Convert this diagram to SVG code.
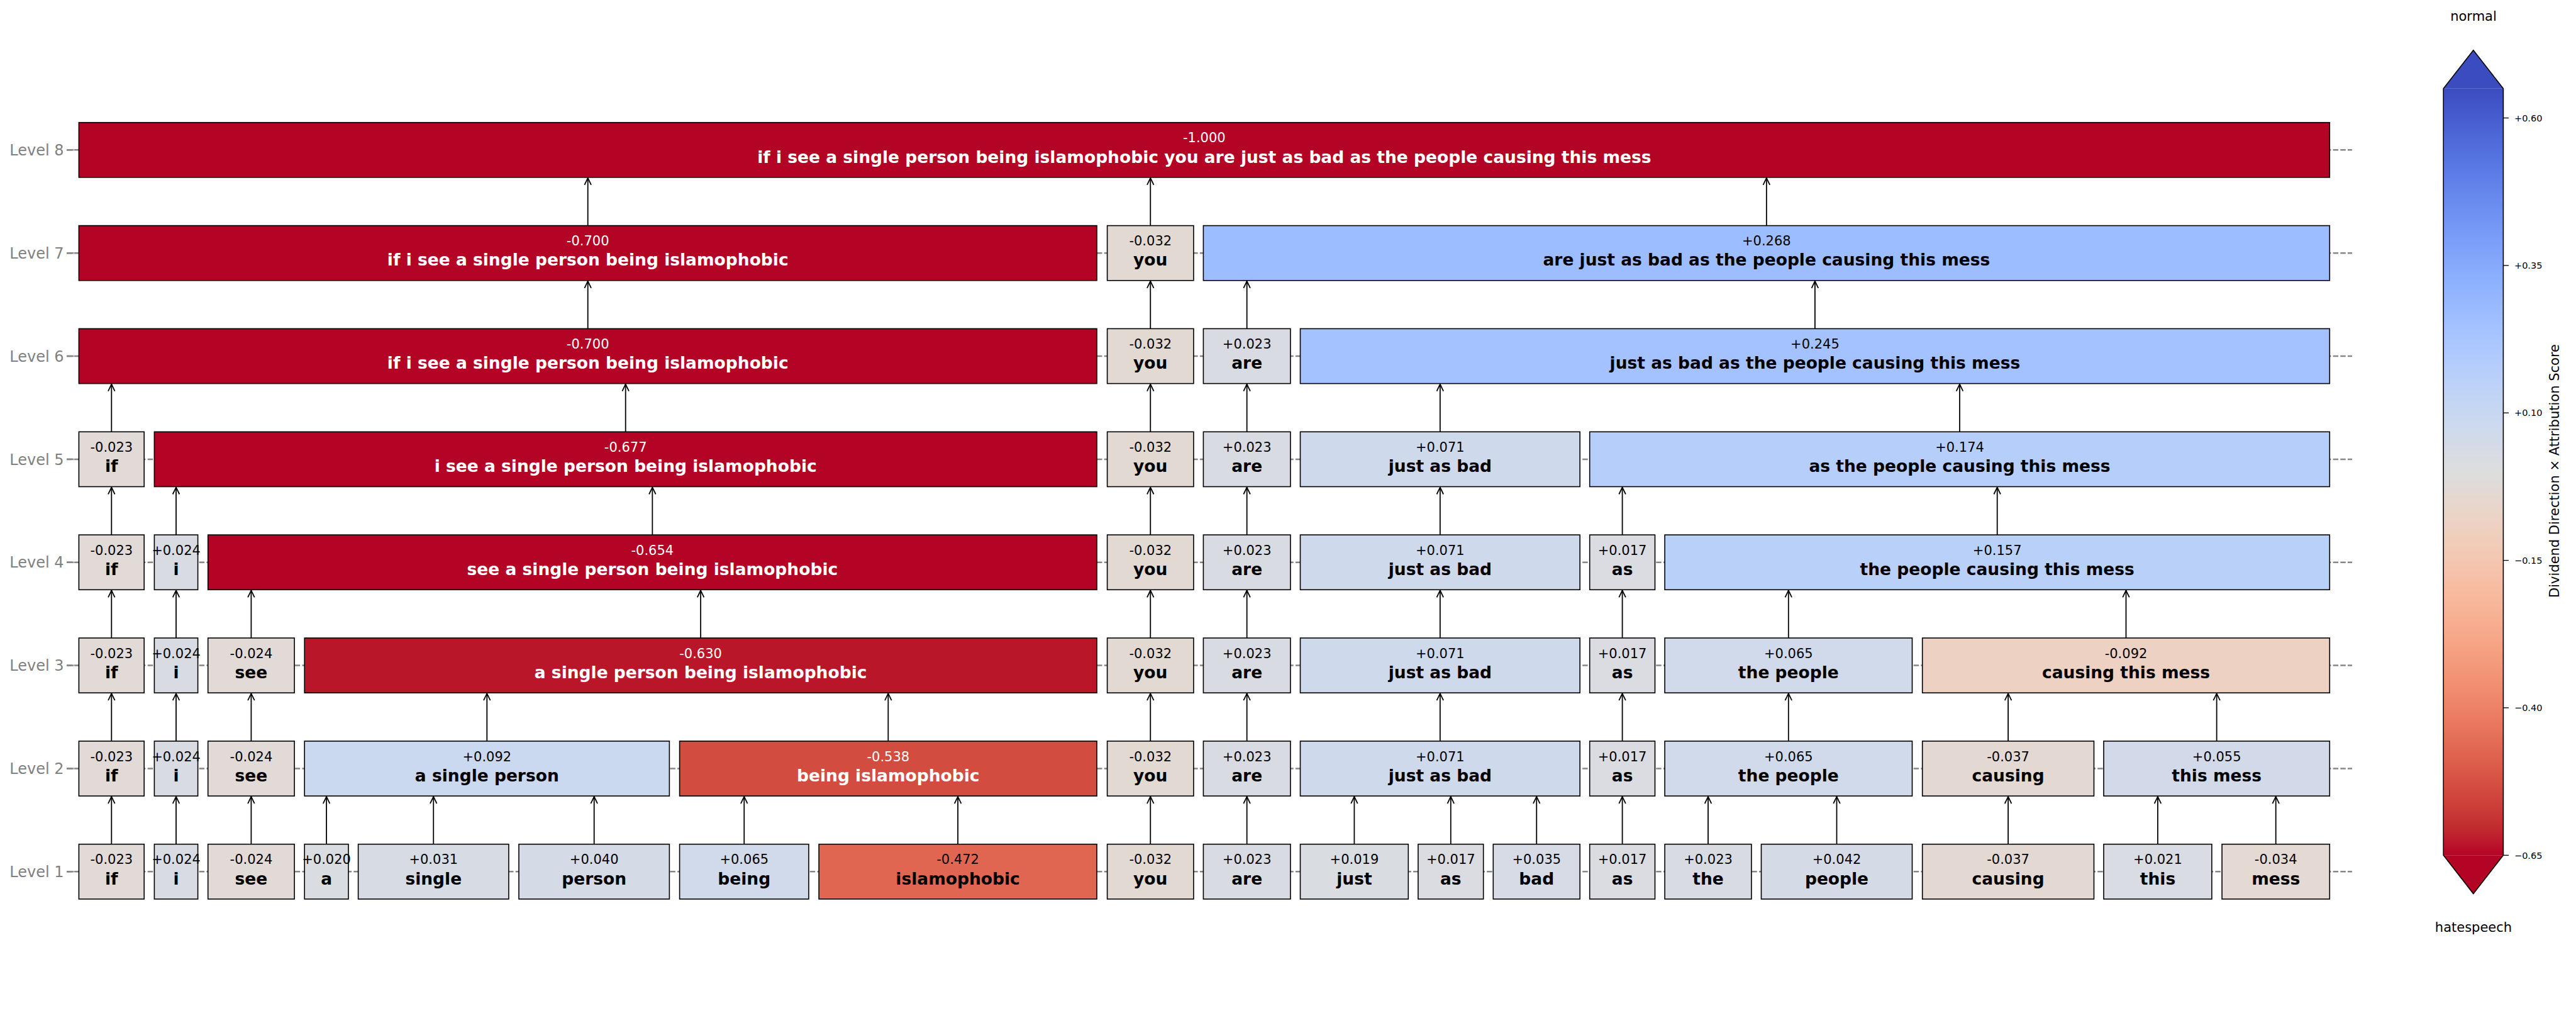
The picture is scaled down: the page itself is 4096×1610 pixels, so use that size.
<svg xmlns="http://www.w3.org/2000/svg" width="4096" height="1610" viewBox="0 0 4096 1610">
<style>
text{font-family:"DejaVu Sans","Liberation Sans",sans-serif}
.nd rect{stroke:#000;stroke-width:1.6}
.v{font-size:21px;text-anchor:middle;fill:#000}
.t{font-size:26.5px;font-weight:bold;text-anchor:middle;fill:#000}
.w{fill:#fff}
.dl{stroke:#878787;stroke-width:2.5;stroke-dasharray:8.5 3.2}
.tk{stroke:#878787;stroke-width:2.5}
.lv{font-size:24px;fill:#808080;text-anchor:end}
.a{stroke:#000;stroke-width:1.8;fill:none;marker-end:url(#ah)}
.ct{font-size:14.5px;fill:#000}
.cl{font-size:21px;fill:#000;text-anchor:middle}
</style>
<defs>
<marker id="ah" markerUnits="userSpaceOnUse" markerWidth="24" markerHeight="24" viewBox="-16 -12 24 24" refX="0" refY="0" orient="auto" overflow="visible">
<path d="M-11,-5.3 L0,0 L-11,5.3" fill="none" stroke="#000" stroke-width="1.8"/>
</marker>
<linearGradient id="cw" gradientUnits="userSpaceOnUse" x1="0" y1="140.7" x2="0" y2="1359.3">
<stop offset="0" stop-color="#3b4cc0"/><stop offset="0.03125" stop-color="#445acc"/><stop offset="0.0625" stop-color="#4d68d7"/><stop offset="0.09375" stop-color="#5775e1"/><stop offset="0.125" stop-color="#6282ea"/><stop offset="0.15625" stop-color="#6c8ef1"/><stop offset="0.1875" stop-color="#779af7"/><stop offset="0.21875" stop-color="#82a5fb"/><stop offset="0.25" stop-color="#8db0fe"/><stop offset="0.28125" stop-color="#98b9ff"/><stop offset="0.3125" stop-color="#a3c2ff"/><stop offset="0.34375" stop-color="#aec9fd"/><stop offset="0.375" stop-color="#b8d0f9"/><stop offset="0.40625" stop-color="#c2d5f4"/><stop offset="0.4375" stop-color="#ccd9ee"/><stop offset="0.46875" stop-color="#d5dbe6"/><stop offset="0.5" stop-color="#dddddd"/><stop offset="0.53125" stop-color="#e5d8d1"/><stop offset="0.5625" stop-color="#ecd3c5"/><stop offset="0.59375" stop-color="#f1ccb8"/><stop offset="0.625" stop-color="#f5c4ac"/><stop offset="0.65625" stop-color="#f7bba0"/><stop offset="0.6875" stop-color="#f7b194"/><stop offset="0.71875" stop-color="#f7a687"/><stop offset="0.75" stop-color="#f49a7b"/><stop offset="0.78125" stop-color="#f18d6f"/><stop offset="0.8125" stop-color="#ec7f63"/><stop offset="0.84375" stop-color="#e57058"/><stop offset="0.875" stop-color="#de604d"/><stop offset="0.90625" stop-color="#d55042"/><stop offset="0.9375" stop-color="#cb3e38"/><stop offset="0.96875" stop-color="#c0282f"/><stop offset="1" stop-color="#b40426"/>
</linearGradient>
</defs>
<rect width="4096" height="1610" fill="#fff"/>
<g id="levels">
<line class="dl" x1="106" y1="238.3" x2="3740" y2="238.3"/><line class="tk" x1="106" y1="238.3" x2="117" y2="238.3"/><text class="lv" x="101.5" y="247">Level 8</text>
<line class="dl" x1="106" y1="402.2" x2="3740" y2="402.2"/><line class="tk" x1="106" y1="402.2" x2="117" y2="402.2"/><text class="lv" x="101.5" y="410.9">Level 7</text>
<line class="dl" x1="106" y1="566" x2="3740" y2="566"/><line class="tk" x1="106" y1="566" x2="117" y2="566"/><text class="lv" x="101.5" y="574.7">Level 6</text>
<line class="dl" x1="106" y1="729.9" x2="3740" y2="729.9"/><line class="tk" x1="106" y1="729.9" x2="117" y2="729.9"/><text class="lv" x="101.5" y="738.6">Level 5</text>
<line class="dl" x1="106" y1="893.7" x2="3740" y2="893.7"/><line class="tk" x1="106" y1="893.7" x2="117" y2="893.7"/><text class="lv" x="101.5" y="902.4">Level 4</text>
<line class="dl" x1="106" y1="1057.6" x2="3740" y2="1057.6"/><line class="tk" x1="106" y1="1057.6" x2="117" y2="1057.6"/><text class="lv" x="101.5" y="1066.3">Level 3</text>
<line class="dl" x1="106" y1="1221.5" x2="3740" y2="1221.5"/><line class="tk" x1="106" y1="1221.5" x2="117" y2="1221.5"/><text class="lv" x="101.5" y="1230.2">Level 2</text>
<line class="dl" x1="106" y1="1385.3" x2="3740" y2="1385.3"/><line class="tk" x1="106" y1="1385.3" x2="117" y2="1385.3"/><text class="lv" x="101.5" y="1394">Level 1</text>
</g>
<g id="connectors">
<line class="a" x1="177.3" y1="1341.7" x2="177.3" y2="1266.1"/><line class="a" x1="280" y1="1341.7" x2="280" y2="1266.1"/><line class="a" x1="399.4" y1="1341.7" x2="399.4" y2="1266.1"/><line class="a" x1="519.1" y1="1341.7" x2="519.1" y2="1266.1"/><line class="a" x1="689.25" y1="1341.7" x2="689.25" y2="1266.1"/><line class="a" x1="944.7" y1="1341.7" x2="944.7" y2="1266.1"/><line class="a" x1="1183.25" y1="1341.7" x2="1183.25" y2="1266.1"/><line class="a" x1="1523.05" y1="1341.7" x2="1523.05" y2="1266.1"/><line class="a" x1="1829.25" y1="1341.7" x2="1829.25" y2="1266.1"/><line class="a" x1="1982.65" y1="1341.7" x2="1982.65" y2="1266.1"/><line class="a" x1="2153.4" y1="1341.7" x2="2153.4" y2="1266.1"/><line class="a" x1="2306.8" y1="1341.7" x2="2306.8" y2="1266.1"/><line class="a" x1="2443.25" y1="1341.7" x2="2443.25" y2="1266.1"/><line class="a" x1="2579.6" y1="1341.7" x2="2579.6" y2="1266.1"/><line class="a" x1="2716" y1="1341.7" x2="2716" y2="1266.1"/><line class="a" x1="2920.5" y1="1341.7" x2="2920.5" y2="1266.1"/><line class="a" x1="3193.1" y1="1341.7" x2="3193.1" y2="1266.1"/><line class="a" x1="3430.95" y1="1341.7" x2="3430.95" y2="1266.1"/><line class="a" x1="3618.7" y1="1341.7" x2="3618.7" y2="1266.1"/>
<line class="a" x1="177.3" y1="1177.9" x2="177.3" y2="1102.2"/><line class="a" x1="280" y1="1177.9" x2="280" y2="1102.2"/><line class="a" x1="399.4" y1="1177.9" x2="399.4" y2="1102.2"/><line class="a" x1="774.3" y1="1177.9" x2="774.3" y2="1102.2"/><line class="a" x1="1412.3" y1="1177.9" x2="1412.3" y2="1102.2"/><line class="a" x1="1829.25" y1="1177.9" x2="1829.25" y2="1102.2"/><line class="a" x1="1982.65" y1="1177.9" x2="1982.65" y2="1102.2"/><line class="a" x1="2289.85" y1="1177.9" x2="2289.85" y2="1102.2"/><line class="a" x1="2579.6" y1="1177.9" x2="2579.6" y2="1102.2"/><line class="a" x1="2843.8" y1="1177.9" x2="2843.8" y2="1102.2"/><line class="a" x1="3193.1" y1="1177.9" x2="3193.1" y2="1102.2"/><line class="a" x1="3524.65" y1="1177.9" x2="3524.65" y2="1102.2"/>
<line class="a" x1="177.3" y1="1014" x2="177.3" y2="938.3"/><line class="a" x1="280" y1="1014" x2="280" y2="938.3"/><line class="a" x1="399.4" y1="1014" x2="399.4" y2="938.3"/><line class="a" x1="1114.1" y1="1014" x2="1114.1" y2="938.3"/><line class="a" x1="1829.25" y1="1014" x2="1829.25" y2="938.3"/><line class="a" x1="1982.65" y1="1014" x2="1982.65" y2="938.3"/><line class="a" x1="2289.85" y1="1014" x2="2289.85" y2="938.3"/><line class="a" x1="2579.6" y1="1014" x2="2579.6" y2="938.3"/><line class="a" x1="2843.8" y1="1014" x2="2843.8" y2="938.3"/><line class="a" x1="3380.5" y1="1014" x2="3380.5" y2="938.3"/>
<line class="a" x1="177.3" y1="850.1" x2="177.3" y2="774.5"/><line class="a" x1="280" y1="850.1" x2="280" y2="774.5"/><line class="a" x1="1037.35" y1="850.1" x2="1037.35" y2="774.5"/><line class="a" x1="1829.25" y1="850.1" x2="1829.25" y2="774.5"/><line class="a" x1="1982.65" y1="850.1" x2="1982.65" y2="774.5"/><line class="a" x1="2289.85" y1="850.1" x2="2289.85" y2="774.5"/><line class="a" x1="2579.6" y1="850.1" x2="2579.6" y2="774.5"/><line class="a" x1="3175.7" y1="850.1" x2="3175.7" y2="774.5"/>
<line class="a" x1="177.3" y1="686.3" x2="177.3" y2="610.6"/><line class="a" x1="994.7" y1="686.3" x2="994.7" y2="610.6"/><line class="a" x1="1829.25" y1="686.3" x2="1829.25" y2="610.6"/><line class="a" x1="1982.65" y1="686.3" x2="1982.65" y2="610.6"/><line class="a" x1="2289.85" y1="686.3" x2="2289.85" y2="610.6"/><line class="a" x1="3116" y1="686.3" x2="3116" y2="610.6"/>
<line class="a" x1="934.7" y1="522.4" x2="934.7" y2="446.8"/><line class="a" x1="1829.25" y1="522.4" x2="1829.25" y2="446.8"/><line class="a" x1="1982.65" y1="522.4" x2="1982.65" y2="446.8"/><line class="a" x1="2885.9" y1="522.4" x2="2885.9" y2="446.8"/>
<line class="a" x1="934.7" y1="358.6" x2="934.7" y2="282.9"/><line class="a" x1="1829.25" y1="358.6" x2="1829.25" y2="282.9"/><line class="a" x1="2808.85" y1="358.6" x2="2808.85" y2="282.9"/>
</g>
<g id="level1">
<g id="n1_0" class="nd" transform="translate(177.3,1385.3)"><rect x="-51.9" y="-43.6" width="103.8" height="87.2" fill="#e2dad6"/><text class="v" y="-12">-0.023</text><text class="t" y="20.2">if</text></g>
<g id="n1_1" class="nd" transform="translate(280,1385.3)"><rect x="-34.6" y="-43.6" width="69.2" height="87.2" fill="#d8dce2"/><text class="v" y="-12">+0.024</text><text class="t" y="20.2">i</text></g>
<g id="n1_2" class="nd" transform="translate(399.4,1385.3)"><rect x="-68.7" y="-43.6" width="137.4" height="87.2" fill="#e2dad6"/><text class="v" y="-12">-0.024</text><text class="t" y="20.2">see</text></g>
<g id="n1_3" class="nd" transform="translate(519.1,1385.3)"><rect x="-34.9" y="-43.6" width="69.8" height="87.2" fill="#d9dce1"/><text class="v" y="-12">+0.020</text><text class="t" y="20.2">a</text></g>
<g id="n1_4" class="nd" transform="translate(689.25,1385.3)"><rect x="-119.65" y="-43.6" width="239.3" height="87.2" fill="#d7dce4"/><text class="v" y="-12">+0.031</text><text class="t" y="20.2">single</text></g>
<g id="n1_5" class="nd" transform="translate(944.7,1385.3)"><rect x="-119.7" y="-43.6" width="239.4" height="87.2" fill="#d5dbe6"/><text class="v" y="-12">+0.040</text><text class="t" y="20.2">person</text></g>
<g id="n1_6" class="nd" transform="translate(1183.25,1385.3)"><rect x="-102.65" y="-43.6" width="205.3" height="87.2" fill="#d0daeb"/><text class="v" y="-12">+0.065</text><text class="t" y="20.2">being</text></g>
<g id="n1_7" class="nd" transform="translate(1523.05,1385.3)"><rect x="-220.95" y="-43.6" width="441.9" height="87.2" fill="#e16651"/><text class="v" y="-12">-0.472</text><text class="t" y="20.2">islamophobic</text></g>
<g id="n1_8" class="nd" transform="translate(1829.25,1385.3)"><rect x="-68.65" y="-43.6" width="137.3" height="87.2" fill="#e3d9d3"/><text class="v" y="-12">-0.032</text><text class="t" y="20.2">you</text></g>
<g id="n1_9" class="nd" transform="translate(1982.65,1385.3)"><rect x="-69.25" y="-43.6" width="138.5" height="87.2" fill="#d8dce2"/><text class="v" y="-12">+0.023</text><text class="t" y="20.2">are</text></g>
<g id="n1_10" class="nd" transform="translate(2153.4,1385.3)"><rect x="-85.9" y="-43.6" width="171.8" height="87.2" fill="#d9dce1"/><text class="v" y="-12">+0.019</text><text class="t" y="20.2">just</text></g>
<g id="n1_11" class="nd" transform="translate(2306.8,1385.3)"><rect x="-51.9" y="-43.6" width="103.8" height="87.2" fill="#dadce1"/><text class="v" y="-12">+0.017</text><text class="t" y="20.2">as</text></g>
<g id="n1_12" class="nd" transform="translate(2443.25,1385.3)"><rect x="-68.95" y="-43.6" width="137.9" height="87.2" fill="#d6dbe5"/><text class="v" y="-12">+0.035</text><text class="t" y="20.2">bad</text></g>
<g id="n1_13" class="nd" transform="translate(2579.6,1385.3)"><rect x="-51.9" y="-43.6" width="103.8" height="87.2" fill="#dadce1"/><text class="v" y="-12">+0.017</text><text class="t" y="20.2">as</text></g>
<g id="n1_14" class="nd" transform="translate(2716,1385.3)"><rect x="-68.9" y="-43.6" width="137.8" height="87.2" fill="#d8dce2"/><text class="v" y="-12">+0.023</text><text class="t" y="20.2">the</text></g>
<g id="n1_15" class="nd" transform="translate(2920.5,1385.3)"><rect x="-120" y="-43.6" width="240" height="87.2" fill="#d5dbe6"/><text class="v" y="-12">+0.042</text><text class="t" y="20.2">people</text></g>
<g id="n1_16" class="nd" transform="translate(3193.1,1385.3)"><rect x="-136.4" y="-43.6" width="272.8" height="87.2" fill="#e4d8d2"/><text class="v" y="-12">-0.037</text><text class="t" y="20.2">causing</text></g>
<g id="n1_17" class="nd" transform="translate(3430.95,1385.3)"><rect x="-85.95" y="-43.6" width="171.9" height="87.2" fill="#d9dce2"/><text class="v" y="-12">+0.021</text><text class="t" y="20.2">this</text></g>
<g id="n1_18" class="nd" transform="translate(3618.7,1385.3)"><rect x="-85.6" y="-43.6" width="171.2" height="87.2" fill="#e4d9d3"/><text class="v" y="-12">-0.034</text><text class="t" y="20.2">mess</text></g>
</g>
<g id="level2">
<g id="n2_0" class="nd" transform="translate(177.3,1221.5)"><rect x="-51.9" y="-43.6" width="103.8" height="87.2" fill="#e2dad6"/><text class="v" y="-12">-0.023</text><text class="t" y="20.2">if</text></g>
<g id="n2_1" class="nd" transform="translate(280,1221.5)"><rect x="-34.6" y="-43.6" width="69.2" height="87.2" fill="#d8dce2"/><text class="v" y="-12">+0.024</text><text class="t" y="20.2">i</text></g>
<g id="n2_2" class="nd" transform="translate(399.4,1221.5)"><rect x="-68.7" y="-43.6" width="137.4" height="87.2" fill="#e2dad6"/><text class="v" y="-12">-0.024</text><text class="t" y="20.2">see</text></g>
<g id="n2_3" class="nd" transform="translate(774.3,1221.5)"><rect x="-290.1" y="-43.6" width="580.2" height="87.2" fill="#cad8f0"/><text class="v" y="-12">+0.092</text><text class="t" y="20.2">a single person</text></g>
<g id="n2_4" class="nd" transform="translate(1412.3,1221.5)"><rect x="-331.7" y="-43.6" width="663.4" height="87.2" fill="#d34c40"/><text class="v w" y="-12">-0.538</text><text class="t w" y="20.2">being islamophobic</text></g>
<g id="n2_5" class="nd" transform="translate(1829.25,1221.5)"><rect x="-68.65" y="-43.6" width="137.3" height="87.2" fill="#e3d9d3"/><text class="v" y="-12">-0.032</text><text class="t" y="20.2">you</text></g>
<g id="n2_6" class="nd" transform="translate(1982.65,1221.5)"><rect x="-69.25" y="-43.6" width="138.5" height="87.2" fill="#d8dce2"/><text class="v" y="-12">+0.023</text><text class="t" y="20.2">are</text></g>
<g id="n2_7" class="nd" transform="translate(2289.85,1221.5)"><rect x="-222.35" y="-43.6" width="444.7" height="87.2" fill="#ced9ec"/><text class="v" y="-12">+0.071</text><text class="t" y="20.2">just as bad</text></g>
<g id="n2_8" class="nd" transform="translate(2579.6,1221.5)"><rect x="-51.9" y="-43.6" width="103.8" height="87.2" fill="#dadce1"/><text class="v" y="-12">+0.017</text><text class="t" y="20.2">as</text></g>
<g id="n2_9" class="nd" transform="translate(2843.8,1221.5)"><rect x="-196.7" y="-43.6" width="393.4" height="87.2" fill="#d0daeb"/><text class="v" y="-12">+0.065</text><text class="t" y="20.2">the people</text></g>
<g id="n2_10" class="nd" transform="translate(3193.1,1221.5)"><rect x="-136.4" y="-43.6" width="272.8" height="87.2" fill="#e4d8d2"/><text class="v" y="-12">-0.037</text><text class="t" y="20.2">causing</text></g>
<g id="n2_11" class="nd" transform="translate(3524.65,1221.5)"><rect x="-179.65" y="-43.6" width="359.3" height="87.2" fill="#d2dae9"/><text class="v" y="-12">+0.055</text><text class="t" y="20.2">this mess</text></g>
</g>
<g id="level3">
<g id="n3_0" class="nd" transform="translate(177.3,1057.6)"><rect x="-51.9" y="-43.6" width="103.8" height="87.2" fill="#e2dad6"/><text class="v" y="-12">-0.023</text><text class="t" y="20.2">if</text></g>
<g id="n3_1" class="nd" transform="translate(280,1057.6)"><rect x="-34.6" y="-43.6" width="69.2" height="87.2" fill="#d8dce2"/><text class="v" y="-12">+0.024</text><text class="t" y="20.2">i</text></g>
<g id="n3_2" class="nd" transform="translate(399.4,1057.6)"><rect x="-68.7" y="-43.6" width="137.4" height="87.2" fill="#e2dad6"/><text class="v" y="-12">-0.024</text><text class="t" y="20.2">see</text></g>
<g id="n3_3" class="nd" transform="translate(1114.1,1057.6)"><rect x="-629.9" y="-43.6" width="1259.8" height="87.2" fill="#ba162a"/><text class="v w" y="-12">-0.630</text><text class="t w" y="20.2">a single person being islamophobic</text></g>
<g id="n3_4" class="nd" transform="translate(1829.25,1057.6)"><rect x="-68.65" y="-43.6" width="137.3" height="87.2" fill="#e3d9d3"/><text class="v" y="-12">-0.032</text><text class="t" y="20.2">you</text></g>
<g id="n3_5" class="nd" transform="translate(1982.65,1057.6)"><rect x="-69.25" y="-43.6" width="138.5" height="87.2" fill="#d8dce2"/><text class="v" y="-12">+0.023</text><text class="t" y="20.2">are</text></g>
<g id="n3_6" class="nd" transform="translate(2289.85,1057.6)"><rect x="-222.35" y="-43.6" width="444.7" height="87.2" fill="#ced9ec"/><text class="v" y="-12">+0.071</text><text class="t" y="20.2">just as bad</text></g>
<g id="n3_7" class="nd" transform="translate(2579.6,1057.6)"><rect x="-51.9" y="-43.6" width="103.8" height="87.2" fill="#dadce1"/><text class="v" y="-12">+0.017</text><text class="t" y="20.2">as</text></g>
<g id="n3_8" class="nd" transform="translate(2843.8,1057.6)"><rect x="-196.7" y="-43.6" width="393.4" height="87.2" fill="#d0daeb"/><text class="v" y="-12">+0.065</text><text class="t" y="20.2">the people</text></g>
<g id="n3_9" class="nd" transform="translate(3380.5,1057.6)"><rect x="-323.8" y="-43.6" width="647.6" height="87.2" fill="#edd1c2"/><text class="v" y="-12">-0.092</text><text class="t" y="20.2">causing this mess</text></g>
</g>
<g id="level4">
<g id="n4_0" class="nd" transform="translate(177.3,893.7)"><rect x="-51.9" y="-43.6" width="103.8" height="87.2" fill="#e2dad6"/><text class="v" y="-12">-0.023</text><text class="t" y="20.2">if</text></g>
<g id="n4_1" class="nd" transform="translate(280,893.7)"><rect x="-34.6" y="-43.6" width="69.2" height="87.2" fill="#d8dce2"/><text class="v" y="-12">+0.024</text><text class="t" y="20.2">i</text></g>
<g id="n4_2" class="nd" transform="translate(1037.35,893.7)"><rect x="-706.65" y="-43.6" width="1413.3" height="87.2" fill="#b40426"/><text class="v w" y="-12">-0.654</text><text class="t w" y="20.2">see a single person being islamophobic</text></g>
<g id="n4_3" class="nd" transform="translate(1829.25,893.7)"><rect x="-68.65" y="-43.6" width="137.3" height="87.2" fill="#e3d9d3"/><text class="v" y="-12">-0.032</text><text class="t" y="20.2">you</text></g>
<g id="n4_4" class="nd" transform="translate(1982.65,893.7)"><rect x="-69.25" y="-43.6" width="138.5" height="87.2" fill="#d8dce2"/><text class="v" y="-12">+0.023</text><text class="t" y="20.2">are</text></g>
<g id="n4_5" class="nd" transform="translate(2289.85,893.7)"><rect x="-222.35" y="-43.6" width="444.7" height="87.2" fill="#ced9ec"/><text class="v" y="-12">+0.071</text><text class="t" y="20.2">just as bad</text></g>
<g id="n4_6" class="nd" transform="translate(2579.6,893.7)"><rect x="-51.9" y="-43.6" width="103.8" height="87.2" fill="#dadce1"/><text class="v" y="-12">+0.017</text><text class="t" y="20.2">as</text></g>
<g id="n4_7" class="nd" transform="translate(3175.7,893.7)"><rect x="-528.6" y="-43.6" width="1057.2" height="87.2" fill="#b9d1f8"/><text class="v" y="-12">+0.157</text><text class="t" y="20.2">the people causing this mess</text></g>
</g>
<g id="level5">
<g id="n5_0" class="nd" transform="translate(177.3,729.9)"><rect x="-51.9" y="-43.6" width="103.8" height="87.2" fill="#e2dad6"/><text class="v" y="-12">-0.023</text><text class="t" y="20.2">if</text></g>
<g id="n5_1" class="nd" transform="translate(994.7,729.9)"><rect x="-749.3" y="-43.6" width="1498.6" height="87.2" fill="#b40426"/><text class="v w" y="-12">-0.677</text><text class="t w" y="20.2">i see a single person being islamophobic</text></g>
<g id="n5_2" class="nd" transform="translate(1829.25,729.9)"><rect x="-68.65" y="-43.6" width="137.3" height="87.2" fill="#e3d9d3"/><text class="v" y="-12">-0.032</text><text class="t" y="20.2">you</text></g>
<g id="n5_3" class="nd" transform="translate(1982.65,729.9)"><rect x="-69.25" y="-43.6" width="138.5" height="87.2" fill="#d8dce2"/><text class="v" y="-12">+0.023</text><text class="t" y="20.2">are</text></g>
<g id="n5_4" class="nd" transform="translate(2289.85,729.9)"><rect x="-222.35" y="-43.6" width="444.7" height="87.2" fill="#ced9ec"/><text class="v" y="-12">+0.071</text><text class="t" y="20.2">just as bad</text></g>
<g id="n5_5" class="nd" transform="translate(3116,729.9)"><rect x="-588.3" y="-43.6" width="1176.6" height="87.2" fill="#b5cefa"/><text class="v" y="-12">+0.174</text><text class="t" y="20.2">as the people causing this mess</text></g>
</g>
<g id="level6">
<g id="n6_0" class="nd" transform="translate(934.7,566)"><rect x="-809.3" y="-43.6" width="1618.6" height="87.2" fill="#b40426"/><text class="v w" y="-12">-0.700</text><text class="t w" y="20.2">if i see a single person being islamophobic</text></g>
<g id="n6_1" class="nd" transform="translate(1829.25,566)"><rect x="-68.65" y="-43.6" width="137.3" height="87.2" fill="#e3d9d3"/><text class="v" y="-12">-0.032</text><text class="t" y="20.2">you</text></g>
<g id="n6_2" class="nd" transform="translate(1982.65,566)"><rect x="-69.25" y="-43.6" width="138.5" height="87.2" fill="#d8dce2"/><text class="v" y="-12">+0.023</text><text class="t" y="20.2">are</text></g>
<g id="n6_3" class="nd" transform="translate(2885.9,566)"><rect x="-818.4" y="-43.6" width="1636.8" height="87.2" fill="#a3c2ff"/><text class="v" y="-12">+0.245</text><text class="t" y="20.2">just as bad as the people causing this mess</text></g>
</g>
<g id="level7">
<g id="n7_0" class="nd" transform="translate(934.7,402.2)"><rect x="-809.3" y="-43.6" width="1618.6" height="87.2" fill="#b40426"/><text class="v w" y="-12">-0.700</text><text class="t w" y="20.2">if i see a single person being islamophobic</text></g>
<g id="n7_1" class="nd" transform="translate(1829.25,402.2)"><rect x="-68.65" y="-43.6" width="137.3" height="87.2" fill="#e3d9d3"/><text class="v" y="-12">-0.032</text><text class="t" y="20.2">you</text></g>
<g id="n7_2" class="nd" transform="translate(2808.85,402.2)"><rect x="-895.45" y="-43.6" width="1790.9" height="87.2" fill="#9cbdff"/><text class="v" y="-12">+0.268</text><text class="t" y="20.2">are just as bad as the people causing this mess</text></g>
</g>
<g id="level8">
<g id="n8_0" class="nd" transform="translate(1914.85,238.3)"><rect x="-1789.45" y="-43.6" width="3578.9" height="87.2" fill="#b40426"/><text class="v w" y="-12">-1.000</text><text class="t w" y="20.2">if i see a single person being islamophobic you are just as bad as the people causing this mess</text></g>
</g>
<g id="colorbar">
<polygon points="3885.2,140.7 3932.8,79.8 3980.4,140.7" fill="#3b4cc0"/>
<rect x="3885.2" y="140.7" width="95.2" height="1218.6" fill="url(#cw)"/>
<polygon points="3885.2,1359.3 3932.8,1420.4 3980.4,1359.3" fill="#b40426"/>
<polygon points="3885.2,140.7 3932.8,79.8 3980.4,140.7 3980.4,1359.3 3932.8,1420.4 3885.2,1359.3" fill="none" stroke="#000" stroke-width="1.6"/>
<g stroke="#000" stroke-width="1.3">
<line x1="3980.4" y1="187.5" x2="3989" y2="187.5"/><line x1="3980.4" y1="421.9" x2="3989" y2="421.9"/><line x1="3980.4" y1="656.2" x2="3989" y2="656.2"/><line x1="3980.4" y1="890.6" x2="3989" y2="890.6"/><line x1="3980.4" y1="1124.9" x2="3989" y2="1124.9"/><line x1="3980.4" y1="1359.3" x2="3989" y2="1359.3"/>
</g>
<text class="ct" x="3998" y="192.7">+0.60</text>
<text class="ct" x="3998" y="427.1">+0.35</text>
<text class="ct" x="3998" y="661.4">+0.10</text>
<text class="ct" x="3998" y="895.8">−0.15</text>
<text class="ct" x="3998" y="1130.1">−0.40</text>
<text class="ct" x="3998" y="1364.5">−0.65</text>
<text class="cl" x="3933" y="33">normal</text>
<text class="cl" x="3933" y="1480.6">hatespeech</text>
<text class="cl" font-size="22" transform="translate(4069,748.5) rotate(-90)">Dividend Direction × Attribution Score</text>
</g>
</svg>
